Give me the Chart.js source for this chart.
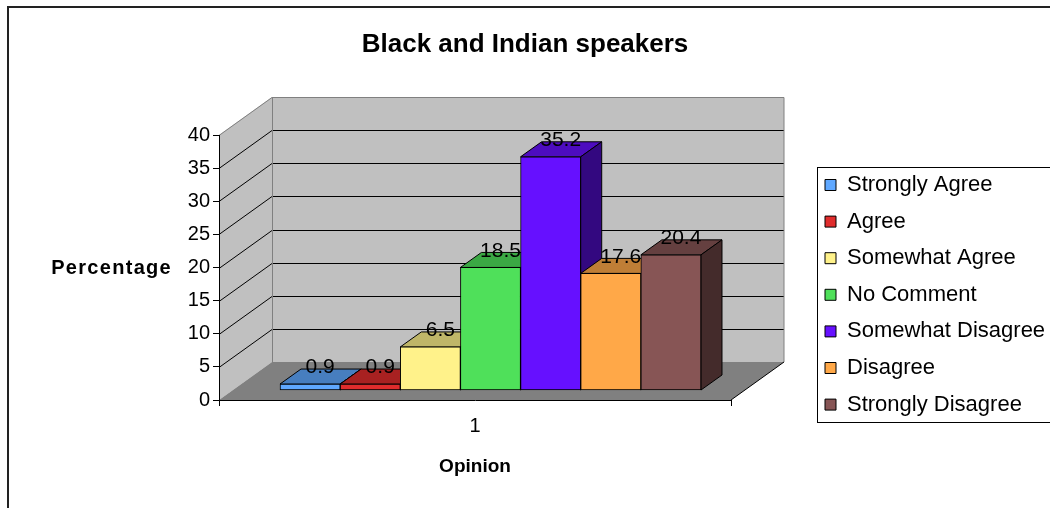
<!DOCTYPE html>
<html><head><meta charset="utf-8">
<script src="https://cdn.jsdelivr.net/npm/chart.js@4.4.0/dist/chart.umd.min.js"></script>
<style>html,body{margin:0;padding:0;background:#fff;overflow:hidden}#wrap{width:1050px;height:508px;position:relative}</style>
</head><body><div id="wrap"><canvas id="c" width="1050" height="508"></canvas></div>
<script>
const chartTitle = 'Black and Indian speakers';
const categories = ['1'];
const seriesNames = ['Strongly Agree','Agree','Somewhat Agree','No Comment','Somewhat Disagree','Disagree','Strongly Disagree'];
const seriesValues = [0.9, 0.9, 6.5, 18.5, 35.2, 17.6, 20.4];
const seriesColors = ['#5FA8FF','#E02C2C','#FFF28A','#4FE05A','#6610FF','#FFA848','#875555'];
const yTicks = [0, 5, 10, 15, 20, 25, 30, 35, 40];
const xTitle = 'Opinion';
const yTitle = 'Percentage';

const FONT = 'Arial, "Liberation Sans", sans-serif';
Chart.defaults.font.family = FONT;
Chart.defaults.color = '#000';

function shade(hex, f) {
  const n = parseInt(hex.slice(1), 16);
  const r = Math.round(((n >> 16) & 255) * f), g = Math.round(((n >> 8) & 255) * f), b = Math.round((n & 255) * f);
  return 'rgb(' + r + ',' + g + ',' + b + ')';
}

const WALL_DX = 53, WALL_DY = -38;   // depth of the 3D plot box
const BAR_DX = 21, BAR_DY = -15;     // depth of each bar
const LEGEND_SPACE = 319;

function poly(ctx, pts, fill, stroke) {
  ctx.beginPath();
  ctx.moveTo(pts[0][0], pts[0][1]);
  for (let i = 1; i < pts.length; i++) ctx.lineTo(pts[i][0], pts[i][1]);
  ctx.closePath();
  if (fill) { ctx.fillStyle = fill; ctx.fill(); }
  if (stroke) { ctx.strokeStyle = stroke; ctx.lineWidth = 1; ctx.stroke(); }
}

const scene3d = {
  id: 'scene3d',
  beforeLayout(chart) {
    const lg = chart.legend;
    if (lg && !lg.__fixed) {
      const orig = lg.fit;
      lg.fit = function () { orig.call(this); this.width = LEGEND_SPACE; };
      lg.__fixed = true;
    }
  },
  afterLayout(chart) {
    const lg = chart.legend;
    if (!lg) return;
    const p = lg.options.labels.padding, fs = lg.options.labels.font.size;
    const w = lg.width;
    lg.left = 825 - p; lg.right = lg.left + w;
    lg.top = 185 - fs / 2 - p; lg.bottom = 508; lg.height = lg.bottom - lg.top;
  },
  beforeDraw(chart) {
    const {ctx, chartArea: a} = chart;
    const ys = chart.scales.y;
    ctx.save();
    ctx.fillStyle = '#fff';
    ctx.fillRect(0, 0, chart.width, chart.height);
    // outer frame
    ctx.strokeStyle = '#222'; ctx.lineWidth = 2;
    ctx.beginPath(); ctx.moveTo(8, 600); ctx.lineTo(8, 7); ctx.lineTo(1100, 7); ctx.stroke();

    const y0 = ys.getPixelForValue(yTicks[0]);
    const yTop = ys.getPixelForValue(yTicks[yTicks.length - 1]);
    const L = a.left, R = a.right;
    // back wall
    poly(ctx, [[L + WALL_DX, yTop + WALL_DY], [R + WALL_DX, yTop + WALL_DY], [R + WALL_DX, y0 + WALL_DY], [L + WALL_DX, y0 + WALL_DY]], '#C0C0C0');
    // left wall
    poly(ctx, [[L, yTop], [L + WALL_DX, yTop + WALL_DY], [L + WALL_DX, y0 + WALL_DY], [L, y0]], '#C0C0C0');
    // floor
    poly(ctx, [[L, y0], [R, y0], [R + WALL_DX, y0 + WALL_DY], [L + WALL_DX, y0 + WALL_DY]], '#808080');
    // grid lines
    ctx.lineWidth = 1; ctx.strokeStyle = '#000';
    for (let i = 1; i < yTicks.length - 1; i++) {
      const yy = Math.round(ys.getPixelForValue(yTicks[i])) + 0.5;
      ctx.beginPath();
      ctx.moveTo(L, yy); ctx.lineTo(L + WALL_DX, yy + WALL_DY); ctx.lineTo(R + WALL_DX, yy + WALL_DY);
      ctx.stroke();
    }
    // wall edges
    ctx.strokeStyle = '#808080';
    const yt = Math.round(yTop) + 0.5;
    ctx.beginPath();
    ctx.moveTo(L, yt); ctx.lineTo(L + WALL_DX, yt + WALL_DY); ctx.lineTo(R + WALL_DX, yt + WALL_DY); ctx.lineTo(R + WALL_DX, y0 + WALL_DY);
    ctx.moveTo(L + WALL_DX + 0.5, yt + WALL_DY); ctx.lineTo(L + WALL_DX + 0.5, y0 + WALL_DY);
    ctx.stroke();
    ctx.strokeStyle = '#000';
    ctx.beginPath(); ctx.moveTo(R, y0); ctx.lineTo(R + WALL_DX, y0 + WALL_DY); ctx.stroke();

    // horizontal y-axis title
    ctx.fillStyle = '#000';
    ctx.font = 'bold 20px ' + FONT;
    try { ctx.letterSpacing = '1.3px'; } catch (e) {}
    ctx.textAlign = 'right'; ctx.textBaseline = 'middle';
    ctx.fillText(yTitle, 172, 268);
    try { ctx.letterSpacing = '0px'; } catch (e) {}
    ctx.restore();
  },
  beforeDatasetsDraw(chart) {
    const ctx = chart.ctx;
    ctx.save();
    ctx.lineJoin = 'miter';
    chart.data.datasets.forEach((ds, i) => {
      const meta = chart.getDatasetMeta(i);
      meta.data.forEach((bar, j) => {
        const {x, y, base, width} = bar.getProps(['x', 'y', 'base', 'width'], true);
        const l = x - width / 2, r = x + width / 2;
        const col = ds.backgroundColor;
        poly(ctx, [[l, y], [r, y], [r + BAR_DX, y + BAR_DY], [l + BAR_DX, y + BAR_DY]], shade(col, 0.75), '#000');
        poly(ctx, [[r, y], [r + BAR_DX, y + BAR_DY], [r + BAR_DX, base + BAR_DY], [r, base]], shade(col, 0.5), '#000');
        ctx.fillStyle = '#000';
        ctx.font = '21px ' + FONT;
        ctx.textAlign = 'center'; ctx.textBaseline = 'middle';
        ctx.fillText(String(seriesValues[i]), x + 10, y - 16.5);
      });
    });
    ctx.restore();
  },
  afterDraw(chart) {
    const ctx = chart.ctx;
    ctx.save();
    ctx.strokeStyle = '#000'; ctx.lineWidth = 1;
    ctx.strokeRect(817.5, 167.5, 300, 255);
    ctx.restore();
  }
};

const datasets = seriesNames.map((name, i) => ({
  label: name,
  data: categories.map((c, k) => ({x: k + 1, y: seriesValues[i]})),
  backgroundColor: seriesColors[i],
  borderColor: '#000',
  borderWidth: 1,
  borderSkipped: false,
  barThickness: 60.14,
  xAxisID: 'xb',
  yAxisID: 'yb'
}));

new Chart(document.getElementById('c'), {
  type: 'bar',
  data: { labels: categories, datasets },
  plugins: [scene3d],
  options: {
    responsive: false,
    animation: false,
    events: [],
    layout: { padding: 0 },
    scales: {
      x: {
        type: 'category', position: 'bottom', offset: true,
        grid: { display: true, offset: true, drawOnChartArea: false, drawTicks: true, tickLength: 6, color: '#000' },
        border: { display: true, color: '#000', width: 1 },
        ticks: { font: { size: 20 }, color: '#000', padding: 8 },
        title: { display: true, text: xTitle, font: { size: 19, weight: 'bold' }, color: '#000', padding: { top: 4, bottom: 29.6 } },
        afterFit: (s) => { s.height = 108; }
      },
      y: {
        type: 'linear', position: 'left', min: yTicks[0], max: yTicks[yTicks.length - 1],
        afterBuildTicks: (s) => { s.ticks = yTicks.map(v => ({value: v})); },
        grid: { display: true, drawOnChartArea: false, drawTicks: true, tickLength: 6, color: '#000' },
        border: { display: true, color: '#000', width: 1 },
        ticks: { font: { size: 20 }, color: '#000', padding: 3 },
        afterFit: (s) => { s.width = 219; }
      },
      xb: { type: 'linear', display: false, offset: false, min: 0, max: 512 / 271.5 },
      yb: { type: 'linear', display: false, min: -10 / 6.625, max: 255 / 6.625, beginAtZero: false }
    },
    plugins: {
      title: { display: true, text: chartTitle, font: { size: 26, weight: 'bold' }, color: '#000', padding: { top: 29.4, bottom: 74.4 } },
      legend: {
        display: true, position: 'right', align: 'start',
        labels: { font: { size: 22 }, color: '#000', boxWidth: 11, boxHeight: 11, padding: 14.6 }
      },
      tooltip: { enabled: false }
    }
  }
});
</script>
</body></html>
